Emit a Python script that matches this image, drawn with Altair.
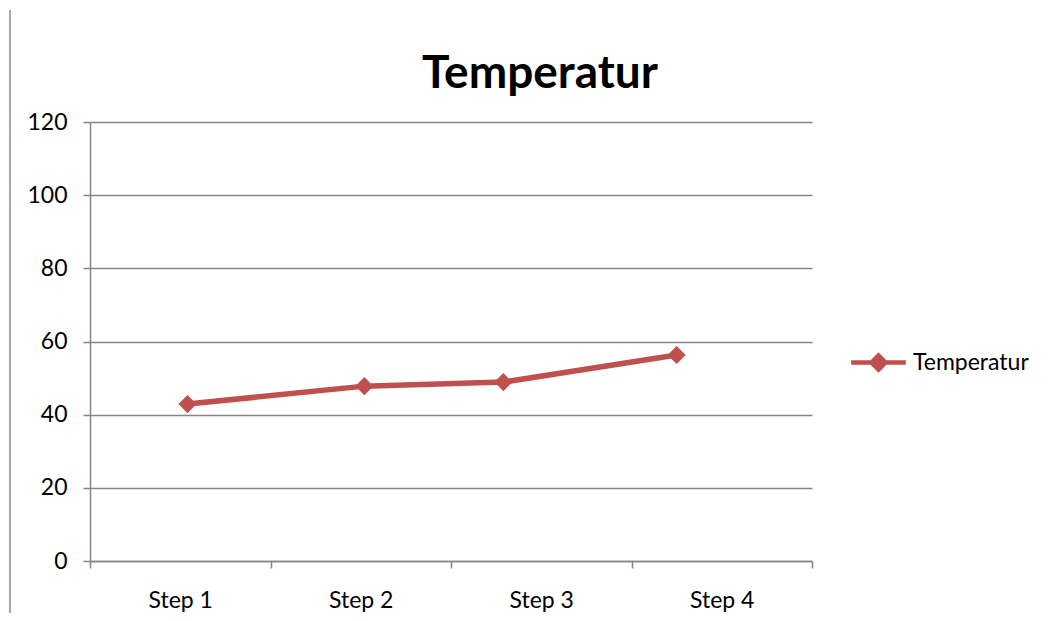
import altair as alt
import pandas as pd

# ---- data ----
steps = ["Step 1", "Step 2", "Step 3", "Step 4"]
step_pos = [1.04, 2.02, 2.79, 3.75]          # horizontal position in category units (Step n centre = n)
temperatur = [42.9, 47.8, 48.9, 56.3]
series_name = "Temperatur"
chart_title = "Temperatur"
y_ticks = [0, 20, 40, 60, 80, 100, 120]
x_ticks = [0.5, 1, 1.5, 2, 2.5, 3, 3.5, 4, 4.5]

df = pd.DataFrame({"step": steps, "pos": step_pos, "value": temperatur,
                   "series": [series_name] * len(steps)})

RED = "#C0504D"
GRAY = "#868686"
FONT = "Lato"

x_enc = alt.X(
    "pos:Q",
    scale=alt.Scale(domain=[0.5, 4.5], nice=False, zero=False),
    axis=alt.Axis(
        title=None, values=x_ticks, grid=False, tickSize=7,
        tickOpacity={"condition": {"test": "datum.value % 1 === 0", "value": 0}, "value": 1},
        labelExpr="datum.value % 1 === 0 ? 'Step ' + datum.value : ''",
        labelOverlap=False, labelFlush=False, labelPadding=21,
    ),
)
y_enc = alt.Y(
    "value:Q",
    scale=alt.Scale(domain=[0, 120], nice=False),
    axis=alt.Axis(title=None, values=y_ticks, grid=True, tickSize=7, labelPadding=16),
)

legend_path = "M-1.35,0L1.35,0M-0.35,0L0,-0.35L0.35,0L0,0.35Z"

line = alt.Chart(df).mark_line(strokeWidth=5.5, strokeCap="round").encode(
    x=x_enc, y=y_enc,
    color=alt.Color("series:N", scale=alt.Scale(range=[RED]),
                    legend=alt.Legend(title=None, symbolType=legend_path, symbolSize=1640,
                                      symbolStrokeWidth=4.5, symbolFillColor=RED,
                                      symbolStrokeColor=RED, symbolOpacity=1,
                                      labelFontSize=23, labelFont=FONT, labelColor="black",
                                      orient="none", legendX=766, legendY=218,
                                      labelOffset=12)),
)
points = alt.Chart(df).mark_point(shape="diamond", filled=True, size=330, opacity=1,
                                  color=RED).encode(x=x_enc, y=y_enc)

border = alt.Chart(df).mark_rule(color="#A6A6A6", strokeWidth=2).encode(
    x=alt.value(-80), y=alt.value(-112), y2=alt.value(499))

title = alt.Chart(pd.DataFrame({"t": [chart_title]})).mark_text(
    font=FONT, fontSize=46, fontWeight="bold", color="black",
    align="center", baseline="alphabetic").encode(
    text="t:N", x=alt.value(450), y=alt.value(-34))

chart = alt.layer(border, line, points, title).properties(
    width=722, height=439,
    autosize=alt.AutoSizeParams(type="none"),
    padding={"left": 82, "top": 114, "right": 230, "bottom": 52},
).configure_view(stroke=None).configure_axis(
    domainColor=GRAY, domainWidth=1.5, tickColor=GRAY, tickWidth=1.5,
    gridColor=GRAY, gridWidth=1.5, labelFont=FONT, labelFontSize=23, labelColor="black",
)

chart.save("out.html", embed_options={"renderer": "svg", "actions": False})
